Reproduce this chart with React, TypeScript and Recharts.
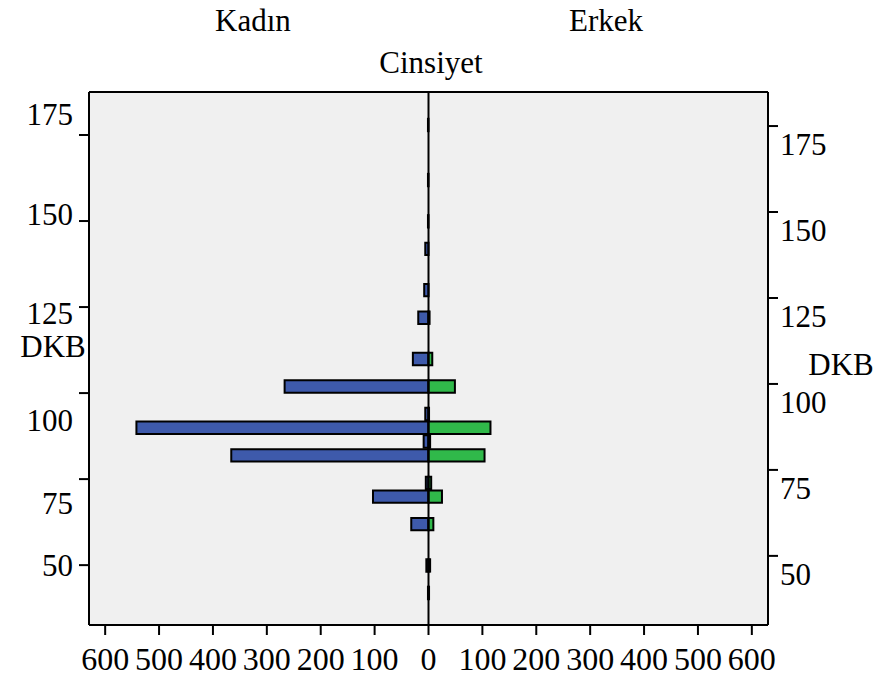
import { Bar, BarChart, CartesianGrid, ReferenceLine, XAxis, YAxis } from "recharts"

// DKB bins (bin centres) and counts per sex
const dkbBins = [42, 50, 62, 70, 74, 82, 86, 90, 94, 102, 110, 122, 130, 142, 150, 162, 178]
const kadinCounts = [1, 4, 32, 103, 5, 366, 9, 542, 6, 267, 29, 19, 8, 6, 1, 1, 1]
const erkekCounts = [1, 3, 9, 25, 5, 104, 3, 115, 1, 49, 7, 2, 0, 0, 0, 0, 0]

const countTicks = [-600, -500, -400, -300, -200, -100, 0, 100, 200, 300, 400, 500, 600]
const dkbTicks = [50, 75, 100, 125, 150, 175]

const FONT = "'Liberation Serif', 'Times New Roman', serif"
const BLUE = "#3e5aab"
const GREEN = "#30b94a"

const data = dkbBins.map((dkb, i) => ({
  dkb,
  kadin: -kadinCounts[i],
  erkek: erkekCounts[i],
}))

// SPSS puts the left labels a bit off their ticks
const leftLabelShift: Record<number, number> = { 175: -21, 150: -7, 125: 6, 100: 27, 75: 24, 50: 0 }

const LeftTick = (props: any) => {
  const { x, y, payload } = props
  const shift = leftLabelShift[payload.value] ?? 0
  return (
    <text x={x - 4} y={y + shift + 10.5} textAnchor="end" fontFamily={FONT} fontSize={31} fill="#000">
      {payload.value}
    </text>
  )
}

const RightTick = (props: any) => {
  const { x, y, payload } = props
  return (
    <text x={x} y={y + 29} textAnchor="start" fontFamily={FONT} fontSize={31} fill="#000">
      {payload.value}
    </text>
  )
}

const BottomTick = (props: any) => {
  const { x, y, payload } = props
  return (
    <text x={x} y={y + 33} textAnchor="middle" fontFamily={FONT} fontSize={32} fill="#000">
      {Math.abs(payload.value)}
    </text>
  )
}

export default function App() {
  const axisLine = { stroke: "#000", strokeWidth: 2 }
  return (
    <div style={{ position: "absolute", left: 0, top: 0, width: 880, height: 679, background: "#fff" }}>
      <BarChart
        width={880}
        height={679}
        data={data}
        layout="vertical"
        stackOffset="sign"
        margin={{ top: 92, right: 0, bottom: 0, left: 0 }}
      >
        <CartesianGrid yAxisId="left" fill="#f0f0f0" horizontal={false} vertical={false} />
        <XAxis
          type="number"
          domain={[-630, 630]}
          ticks={countTicks}
          allowDataOverflow
          height={54}
          tickSize={10}
          axisLine={axisLine}
          tickLine={axisLine}
          tick={<BottomTick />}
        />
        <YAxis
          yAxisId="left"
          type="number"
          dataKey="dkb"
          reversed
          domain={[32.6, 187.5]}
          ticks={dkbTicks}
          allowDataOverflow
          width={89}
          tickSize={10}
          axisLine={axisLine}
          tickLine={axisLine}
          tick={<LeftTick />}
        />
        <YAxis
          yAxisId="right"
          orientation="right"
          type="number"
          dataKey="dkb"
          reversed
          domain={[29.9, 184.9]}
          ticks={dkbTicks}
          allowDataOverflow
          width={112}
          tickSize={10}
          axisLine={axisLine}
          tickLine={axisLine}
          tick={<RightTick />}
        />
        <Bar
          yAxisId="left"
          dataKey="kadin"
          stackId="s"
          fill={BLUE}
          stroke="#000"
          strokeWidth={2}
          barSize={14}
          isAnimationActive={false}
        />
        <Bar
          yAxisId="left"
          dataKey="erkek"
          stackId="s"
          fill={GREEN}
          stroke="#000"
          strokeWidth={2}
          barSize={14}
          isAnimationActive={false}
        />
        <ReferenceLine yAxisId="left" x={0} stroke="#000" strokeWidth={2} />
        <ReferenceLine yAxisId="left" y={187.5} stroke="#000" strokeWidth={2} />
      </BarChart>
      <svg
        width={880}
        height={679}
        style={{ position: "absolute", left: 0, top: 0, pointerEvents: "none" }}
        fontFamily={FONT}
        fontSize={31}
      >
        <text x={253} y={31} textAnchor="middle">Kadın</text>
        <text x={606} y={31} textAnchor="middle">Erkek</text>
        <text x={431} y={73} textAnchor="middle">Cinsiyet</text>
        <text x={53} y={357} textAnchor="middle">DKB</text>
        <text x={841} y={375} textAnchor="middle">DKB</text>
      </svg>
    </div>
  )
}
